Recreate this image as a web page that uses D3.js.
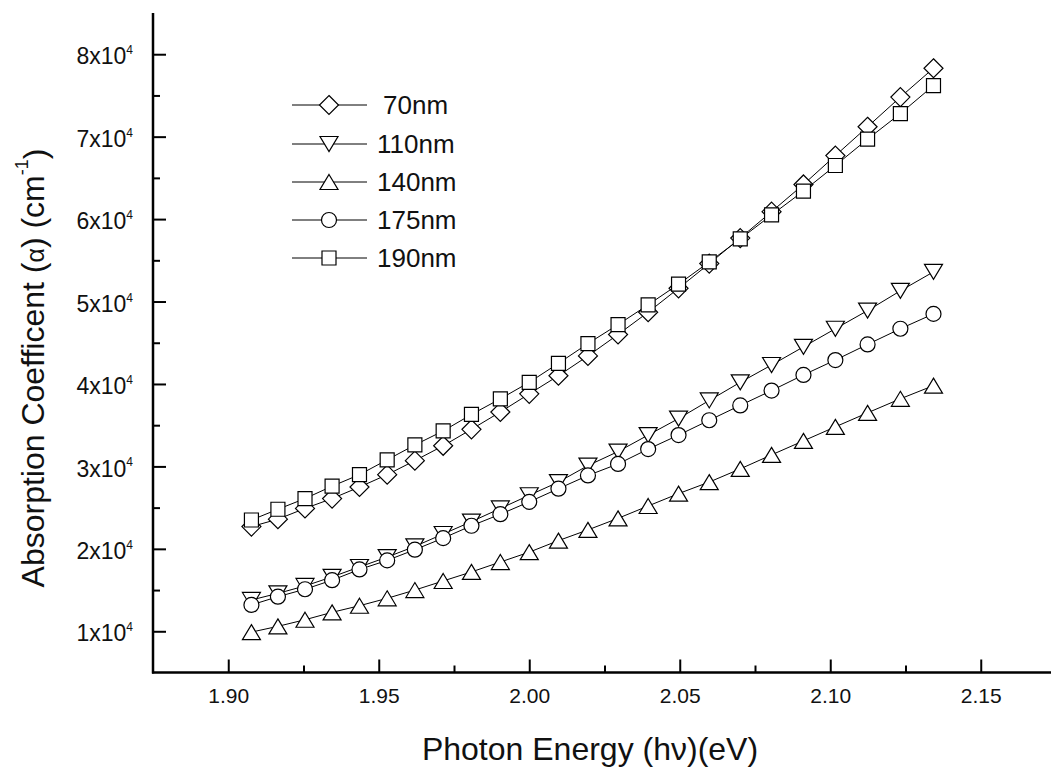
<!DOCTYPE html>
<html>
<head>
<meta charset="utf-8">
<script src="https://cdn.jsdelivr.net/npm/d3@7"></script>
<style>
  html, body { margin: 0; padding: 0; background: #fff; }
  svg { display: block; }
  text { font-family: "Liberation Sans", Arial, sans-serif; fill: #111; }
</style>
</head>
<body>
<svg id="chart" width="1051" height="776"></svg>
<script>
// ---- data ----
const energy = [1.9077, 1.9165, 1.9255, 1.9345, 1.9436, 1.9528, 1.9620, 1.9714, 1.9808, 1.9904, 2.0000, 2.0097,
                2.0195, 2.0295, 2.0395, 2.0496, 2.0598, 2.0701, 2.0805, 2.0911, 2.1017, 2.1124, 2.1233, 2.1343];
const seriesNames = ["70nm", "110nm", "140nm", "175nm", "190nm"];
const seriesShapes = ["diamond", "triangleDown", "triangleUp", "circle", "square"];
const alpha70  = [22700, 23600, 24900, 26100, 27500, 29000, 30700, 32500, 34500, 36600, 38800, 41000,
                  43400, 46000, 48700, 51600, 54600, 57700, 60900, 64200, 67700, 71200, 74800, 78300];
const alpha110 = [13800, 14600, 15500, 16600, 17800, 19000, 20300, 21800, 23300, 24900, 26500, 28100,
                  30100, 31800, 33800, 35800, 38000, 40200, 42300, 44500, 46700, 48900, 51300, 53600];
const alpha140 = [9900, 10600, 11400, 12300, 13100, 14000, 15000, 16100, 17200, 18400, 19600, 21000,
                  22300, 23700, 25200, 26700, 28100, 29700, 31400, 33100, 34800, 36500, 38200, 39800];
const alpha175 = [13200, 14200, 15100, 16200, 17500, 18600, 19900, 21300, 22800, 24200, 25700, 27300,
                  28900, 30300, 32100, 33800, 35600, 37400, 39200, 41100, 42900, 44800, 46700, 48500];
const alpha190 = [23500, 24800, 26100, 27600, 29000, 30800, 32600, 34300, 36300, 38200, 40200, 42500,
                  44900, 47200, 49600, 52100, 54800, 57600, 60500, 63400, 66500, 69700, 72800, 76200];
const xMajorTicks = [1.90, 1.95, 2.00, 2.05, 2.10, 2.15];
const xMinorTicks = [1.925, 1.975, 2.025, 2.075, 2.125, 2.175];
const yMajorTicks = [10000, 20000, 30000, 40000, 50000, 60000, 70000, 80000];
const yMinorTicks = [15000, 25000, 35000, 45000, 55000, 65000, 75000];
const xTickLabels = ["1.90", "1.95", "2.00", "2.05", "2.10", "2.15"];
const yTickMantissa = ["1", "2", "3", "4", "5", "6", "7", "8"];

const seriesValues = [alpha70, alpha110, alpha140, alpha175, alpha190];

// ---- layout ----
const svg = d3.select("#chart");
const plotLeft = 153, plotRight = 1056, plotTop = 13, plotBottom = 672.5;
const x = d3.scaleLinear().domain([1.875, 2.175]).range([plotLeft, plotRight]);
const y = d3.scaleLinear().domain([5000, 85000]).range([plotBottom, plotTop]);

// marker path generator (centered at 0,0)
function markerPath(shape) {
  const p = d3.path();
  if (shape === "diamond") {
    const r = 9.5;
    p.moveTo(0, -r); p.lineTo(r, 0); p.lineTo(0, r); p.lineTo(-r, 0); p.closePath();
  } else if (shape === "square") {
    const h = 7;
    p.rect(-h, -h, 2 * h, 2 * h);
  } else if (shape === "circle") {
    p.moveTo(7.5, 0);
    p.arc(0, 0, 7.5, 0, 2 * Math.PI); p.closePath();
  } else if (shape === "triangleUp") {
    const w = 9, hh = 7.5;
    p.moveTo(0, -hh); p.lineTo(w, hh); p.lineTo(-w, hh); p.closePath();
  } else if (shape === "triangleDown") {
    const w = 9, hh = 7.5;
    p.moveTo(-w, -hh); p.lineTo(w, -hh); p.lineTo(0, hh); p.closePath();
  }
  return p.toString();
}

// ---- series ----
const line = d3.line().x((d, i) => x(energy[i])).y(d => y(d));
const gSeries = svg.append("g");
seriesValues.forEach((vals, si) => {
  const g = gSeries.append("g");
  g.append("path").attr("d", line(vals))
    .attr("fill", "none").attr("stroke", "#000").attr("stroke-width", 1);
  g.selectAll("path.m").data(vals).enter().append("path")
    .attr("class", "m")
    .attr("transform", (d, i) => `translate(${x(energy[i])},${y(d)})`)
    .attr("d", markerPath(seriesShapes[si]))
    .attr("fill", "#fff").attr("stroke", "#000").attr("stroke-width", 1.2);
});

// ---- axes ----
const axisStyle = g => {
  g.selectAll("line").attr("stroke", "#000").attr("stroke-width", 2);
  g.select(".domain").remove();
};
// x ticks (inward)
svg.append("g").attr("transform", `translate(0,${plotBottom})`)
  .call(d3.axisTop(x).tickValues(xMajorTicks).tickSize(13).tickFormat(""))
  .call(axisStyle);
svg.append("g").attr("transform", `translate(0,${plotBottom})`)
  .call(d3.axisTop(x).tickValues(xMinorTicks).tickSize(7).tickFormat(""))
  .call(axisStyle);
// x labels
const xl = svg.append("g").attr("transform", `translate(0,${plotBottom})`)
  .call(d3.axisBottom(x).tickValues(xMajorTicks).tickSize(0).tickPadding(16)
    .tickFormat((d, i) => xTickLabels[i]));
xl.select(".domain").remove();
xl.selectAll("text").attr("font-size", 21).attr("font-family", "Liberation Sans, Arial, sans-serif").attr("fill", "#111");

// y ticks (inward)
svg.append("g").attr("transform", `translate(${plotLeft},0)`)
  .call(d3.axisRight(y).tickValues(yMajorTicks).tickSize(13).tickFormat(""))
  .call(axisStyle);
svg.append("g").attr("transform", `translate(${plotLeft},0)`)
  .call(d3.axisRight(y).tickValues(yMinorTicks).tickSize(7).tickFormat(""))
  .call(axisStyle);
// y labels
const yl = svg.append("g").attr("transform", `translate(${plotLeft},0)`)
  .call(d3.axisLeft(y).tickValues(yMajorTicks).tickSize(0).tickPadding(20).tickFormat(""));
yl.select(".domain").remove();
yl.selectAll(".tick text").each(function(d, i) {
  const t = d3.select(this);
  t.attr("font-size", 23).attr("font-family", "Liberation Sans, Arial, sans-serif")
   .attr("fill", "#111").attr("dy", "0.42em");
  t.append("tspan").text(yTickMantissa[i] + "x10");
  t.append("tspan").attr("font-size", 12).attr("dy", "-0.85em").text("4");
});

// axis lines
svg.append("line").attr("x1", plotLeft).attr("x2", plotLeft).attr("y1", plotTop).attr("y2", plotBottom + 1)
  .attr("stroke", "#000").attr("stroke-width", 2.5);
svg.append("line").attr("x1", plotLeft - 1).attr("x2", plotRight).attr("y1", plotBottom).attr("y2", plotBottom)
  .attr("stroke", "#000").attr("stroke-width", 2.5);

// ---- titles ----
const yt = svg.append("text")
  .attr("transform", "translate(44,368) rotate(-90)")
  .attr("text-anchor", "middle").attr("font-size", 32);
yt.append("tspan").text("Absorption Coefficent (");
yt.append("tspan").attr("font-size", 25).text("α");
yt.append("tspan").text(") (cm");
yt.append("tspan").attr("font-size", 18).attr("dy", "-0.9em").text("-1");
yt.append("tspan").attr("dy", "0.56em").text(")");

svg.append("text").attr("x", 590).attr("y", 760).attr("text-anchor", "middle")
  .attr("font-size", 32).text("Photon Energy (hν)(eV)");

// ---- legend ----
const legendY = [105, 144, 182, 220, 258];
const lg = svg.append("g");
seriesNames.forEach((name, i) => {
  const gy = legendY[i];
  lg.append("line").attr("x1", 292).attr("x2", 367).attr("y1", gy).attr("y2", gy)
    .attr("stroke", "#000").attr("stroke-width", 1);
  lg.append("path").attr("transform", `translate(329,${gy})`)
    .attr("d", markerPath(seriesShapes[i]))
    .attr("fill", "#fff").attr("stroke", "#000").attr("stroke-width", 1.2);
  lg.append("text").attr("x", i === 0 ? 383 : 377).attr("y", gy + 9)
    .attr("font-size", 26).text(name);
});
</script>
</body>
</html>
